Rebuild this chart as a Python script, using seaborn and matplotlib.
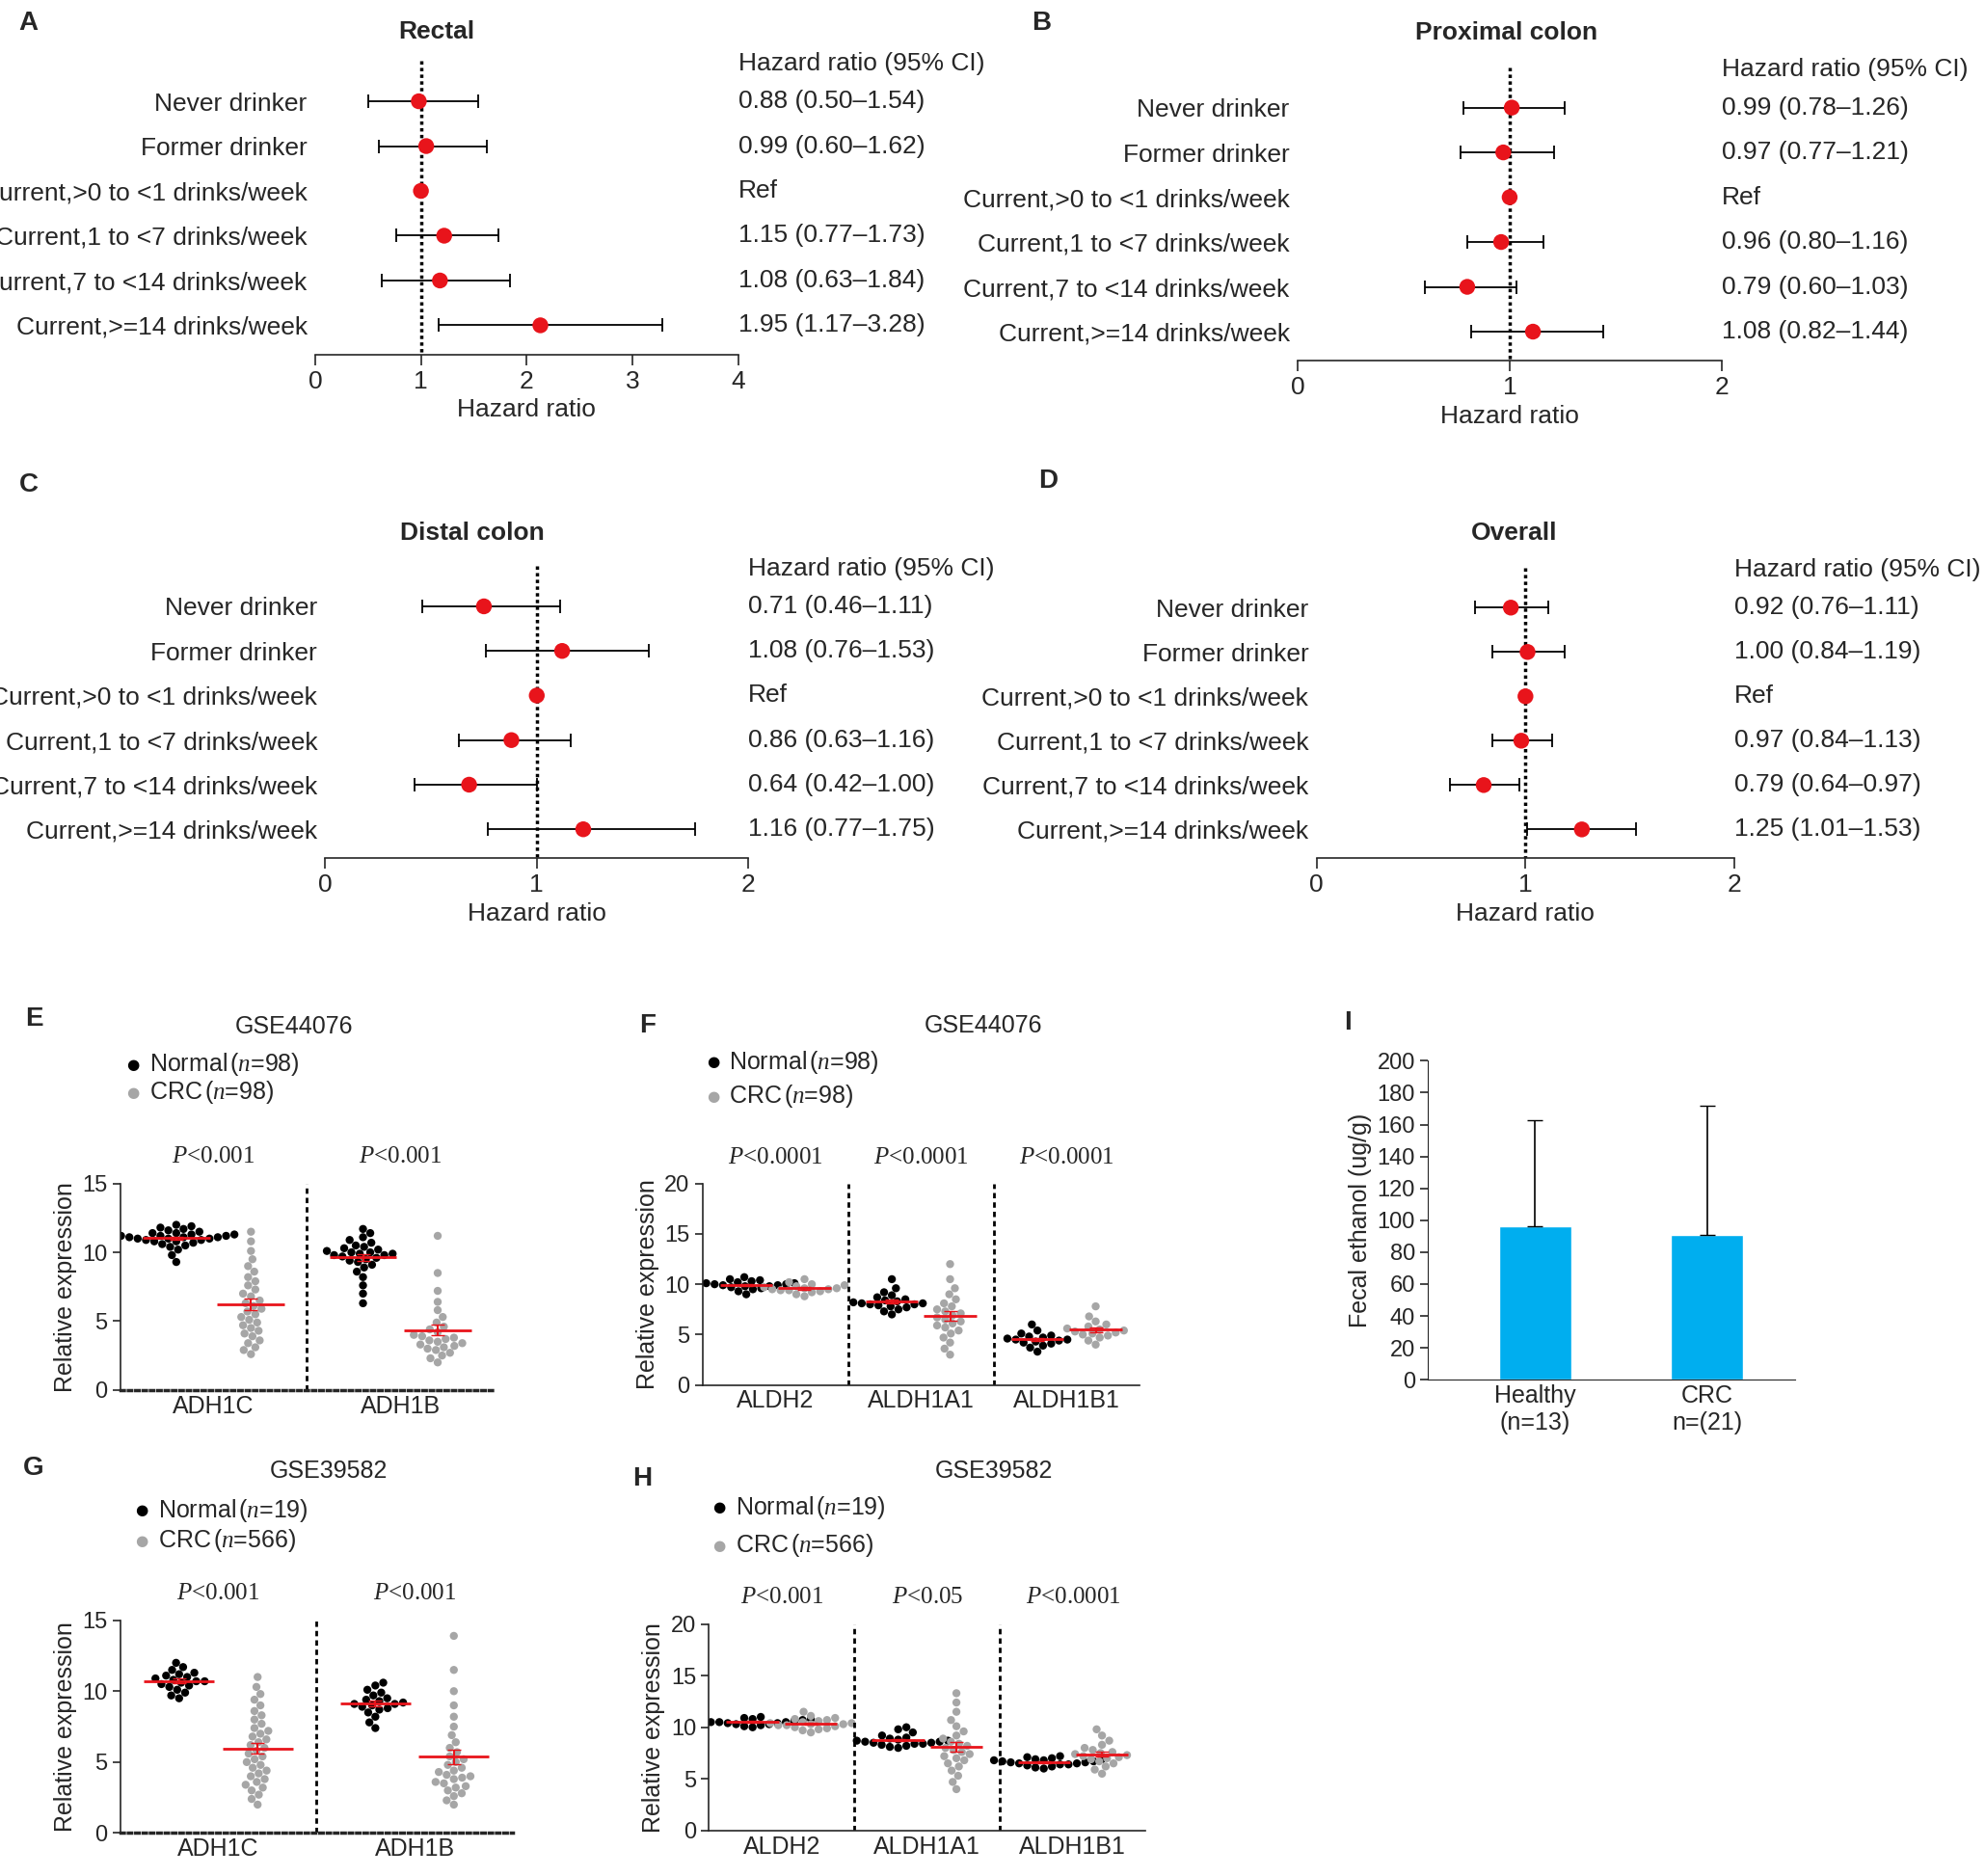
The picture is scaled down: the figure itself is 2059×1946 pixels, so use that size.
import numpy as np
import pandas as pd
import seaborn as sns
import matplotlib
matplotlib.use("Agg")
import matplotlib.pyplot as plt

sns.set_style("ticks")
plt.rcParams["font.family"] = ["Liberation Sans", "DejaVu Sans"]
plt.rcParams["mathtext.fontset"] = "custom"
plt.rcParams["mathtext.it"] = "Liberation Serif:italic"
plt.rcParams["mathtext.rm"] = "Liberation Serif"

# ---------------- data ----------------
rows = ["Never drinker", "Former drinker", "Current,>0 to <1 drinks/week",
        "Current,1 to <7 drinks/week", "Current,7 to <14 drinks/week",
        "Current,>=14 drinks/week"]

rectal_hr = [0.98, 1.05, 1.0, 1.22, 1.18, 2.13]
rectal_lo = [0.50, 0.60, 1.0, 0.77, 0.63, 1.17]
rectal_hi = [1.54, 1.62, 1.0, 1.73, 1.84, 3.28]
rectal_txt = ["0.88 (0.50–1.54)", "0.99 (0.60–1.62)", "Ref", "1.15 (0.77–1.73)",
              "1.08 (0.63–1.84)", "1.95 (1.17–3.28)"]

prox_hr = [1.01, 0.97, 1.0, 0.96, 0.80, 1.11]
prox_lo = [0.78, 0.77, 1.0, 0.80, 0.60, 0.82]
prox_hi = [1.26, 1.21, 1.0, 1.16, 1.03, 1.44]
prox_txt = ["0.99 (0.78–1.26)", "0.97 (0.77–1.21)", "Ref", "0.96 (0.80–1.16)",
            "0.79 (0.60–1.03)", "1.08 (0.82–1.44)"]

dist_hr = [0.75, 1.12, 1.0, 0.88, 0.68, 1.22]
dist_lo = [0.46, 0.76, 1.0, 0.63, 0.42, 0.77]
dist_hi = [1.11, 1.53, 1.0, 1.16, 1.00, 1.75]
dist_txt = ["0.71 (0.46–1.11)", "1.08 (0.76–1.53)", "Ref", "0.86 (0.63–1.16)",
            "0.64 (0.42–1.00)", "1.16 (0.77–1.75)"]

over_hr = [0.93, 1.01, 1.0, 0.98, 0.80, 1.27]
over_lo = [0.76, 0.84, 1.0, 0.84, 0.64, 1.01]
over_hi = [1.11, 1.19, 1.0, 1.13, 0.97, 1.53]
over_txt = ["0.92 (0.76–1.11)", "1.00 (0.84–1.19)", "Ref", "0.97 (0.84–1.13)",
            "0.79 (0.64–0.97)", "1.25 (1.01–1.53)"]

E_genes = ["ADH1C", "ADH1B"]
E_normal = [
    [9.3, 9.8, 10.2, 10.4, 10.5, 10.6, 10.7, 10.8, 10.8, 10.9, 10.9, 11.0, 11.0, 11.0, 11.1,
     11.1, 11.1, 11.2, 11.2, 11.2, 11.3, 11.3, 11.4, 11.4, 11.5, 11.6, 11.7, 11.8, 11.9, 12.0],
    [6.3, 7.0, 7.6, 8.2, 8.6, 8.9, 9.1, 9.3, 9.4, 9.5, 9.6, 9.7, 9.8, 9.8, 9.9, 9.9, 10.0,
     10.0, 10.1, 10.2, 10.3, 10.4, 10.5, 10.7, 10.9, 11.1, 11.4, 11.7]]
E_crc = [
    [2.6, 2.9, 3.1, 3.4, 3.6, 3.9, 4.1, 4.3, 4.5, 4.7, 4.9, 5.1, 5.3, 5.5, 5.7, 5.9, 6.1, 6.3,
     6.5, 6.8, 7.0, 7.3, 7.6, 7.9, 8.2, 8.6, 9.0, 9.5, 10.1, 10.8, 11.5],
    [2.0, 2.3, 2.5, 2.7, 2.9, 3.0, 3.1, 3.2, 3.3, 3.4, 3.5, 3.6, 3.7, 3.8, 3.9, 4.0, 4.2, 4.4,
     4.6, 4.9, 5.3, 5.8, 6.4, 7.2, 8.5, 11.2]]
E_p = ["<0.001", "<0.001"]

F_genes = ["ALDH2", "ALDH1A1", "ALDH1B1"]
F_normal = [
    [9.0, 9.3, 9.5, 9.6, 9.7, 9.8, 9.8, 9.9, 9.9, 10.0, 10.0, 10.1, 10.1, 10.2, 10.3, 10.4, 10.5, 10.7],
    [7.0, 7.3, 7.5, 7.7, 7.8, 7.9, 8.0, 8.0, 8.1, 8.1, 8.2, 8.3, 8.4, 8.5, 8.7, 8.9, 9.2, 9.6, 10.5],
    [3.3, 3.7, 3.9, 4.1, 4.2, 4.3, 4.4, 4.5, 4.5, 4.6, 4.7, 4.8, 4.9, 5.1, 5.4, 6.0]]
F_crc = [
    [8.8, 9.0, 9.2, 9.3, 9.4, 9.4, 9.5, 9.5, 9.6, 9.6, 9.7, 9.8, 9.9, 10.0, 10.2, 10.5],
    [3.0, 3.6, 4.2, 4.7, 5.1, 5.4, 5.7, 5.9, 6.1, 6.3, 6.5, 6.7, 6.9, 7.1, 7.3, 7.5, 7.8, 8.1,
     8.5, 9.0, 9.6, 10.5, 12.0],
    [4.0, 4.4, 4.7, 4.9, 5.0, 5.1, 5.2, 5.3, 5.4, 5.5, 5.6, 5.8, 6.0, 6.3, 6.8, 7.8]]
F_p = ["<0.0001", "<0.0001", "<0.0001"]

G_genes = ["ADH1C", "ADH1B"]
G_normal = [
    [9.5, 9.7, 9.9, 10.1, 10.3, 10.4, 10.5, 10.6, 10.7, 10.7, 10.8, 10.9, 11.0, 11.1, 11.2,
     11.3, 11.5, 11.7, 12.0],
    [7.4, 7.8, 8.2, 8.5, 8.7, 8.8, 8.9, 9.0, 9.1, 9.1, 9.2, 9.3, 9.4, 9.5, 9.7, 9.9, 10.1, 10.4, 10.6]]
G_crc = [
    [2.0, 2.4, 2.7, 3.0, 3.2, 3.4, 3.6, 3.8, 4.0, 4.2, 4.4, 4.6, 4.8, 5.0, 5.2, 5.4, 5.6, 5.8,
     6.0, 6.2, 6.4, 6.6, 6.8, 7.0, 7.2, 7.4, 7.7, 8.0, 8.3, 8.6, 9.0, 9.4, 9.8, 10.3, 11.0],
    [2.0, 2.3, 2.6, 2.8, 3.0, 3.2, 3.3, 3.5, 3.6, 3.8, 3.9, 4.0, 4.1, 4.3, 4.4, 4.6, 4.8, 5.0,
     5.2, 5.4, 5.7, 6.0, 6.4, 6.9, 7.5, 8.2, 9.0, 10.0, 11.5, 13.9]]
G_p = ["<0.001", "<0.001"]

H_genes = ["ALDH2", "ALDH1A1", "ALDH1B1"]
H_normal = [
    [10.0, 10.1, 10.2, 10.3, 10.3, 10.4, 10.4, 10.5, 10.5, 10.5, 10.6, 10.6, 10.7, 10.7, 10.8,
     10.8, 10.9, 10.9, 11.0],
    [8.0, 8.1, 8.2, 8.3, 8.4, 8.4, 8.5, 8.5, 8.6, 8.6, 8.7, 8.7, 8.8, 8.9, 9.0, 9.2, 9.5, 9.8, 10.0],
    [6.0, 6.1, 6.2, 6.3, 6.4, 6.4, 6.5, 6.5, 6.6, 6.6, 6.7, 6.7, 6.8, 6.8, 6.9, 6.9, 7.0, 7.1, 7.2]]
H_crc = [
    [9.5, 9.7, 9.8, 9.9, 10.0, 10.1, 10.2, 10.2, 10.3, 10.3, 10.4, 10.4, 10.5, 10.6, 10.7,
     10.8, 10.9, 11.1, 11.5],
    [4.0, 4.7, 5.3, 5.8, 6.2, 6.5, 6.8, 7.0, 7.2, 7.4, 7.6, 7.8, 8.0, 8.2, 8.4, 8.6, 8.9, 9.2,
     9.6, 10.1, 10.7, 11.5, 12.4, 13.3],
    [5.5, 5.9, 6.2, 6.5, 6.7, 6.9, 7.0, 7.1, 7.2, 7.3, 7.4, 7.5, 7.6, 7.8, 8.0, 8.3, 8.7, 9.2, 9.8]]
H_p = ["<0.001", "<0.05", "<0.0001"]

I_groups = ["Healthy\n(n=13)", "CRC\nn=(21)"]
I_mean = [96, 91]
I_sd = [67, 81]

# ---------------- layout helpers ----------------
W, H = 1568.0, 1482.0
fig = plt.figure(figsize=(20.59, 19.46), dpi=100)
FS = 18


def rect(x0, y0, x1, y1):
    # pixel box in the reference (top-left origin) to figure fraction
    return [x0 / W, 1 - y1 / H, (x1 - x0) / W, (y1 - y0) / H]


def ftext(x, y, s, **kw):
    fig.text(x / W, 1 - y / H, s, **kw)


def forest(x0, x1, row0, axis_y, xmax, hr, lo, hi, txt):
    step = (axis_y - row0) / 5.65
    top = row0 - 0.9 * step
    ax = fig.add_axes(rect(x0, top, x1, axis_y))
    y = np.arange(len(rows))
    ax.errorbar(hr, y, xerr=[np.array(hr) - np.array(lo), np.array(hi) - np.array(hr)],
                fmt="none", ecolor="black", elinewidth=1.3, capsize=5, capthick=1.3, zorder=2)
    ax.plot([1, 1], [-0.9, 5.65], color="black", ls=(0, (1, 1)), lw=2.5, zorder=1)
    sns.scatterplot(x=hr, y=y, color="#E8141B", s=140, edgecolor="none", ax=ax, zorder=3)
    ax.set_ylim(5.65, -0.9)
    ax.set_xlim(0, xmax)
    ax.set_xticks(range(0, xmax + 1))
    ax.set_yticks(y)
    ax.set_yticklabels(rows, fontsize=FS + 1)
    ax.tick_params(axis="y", length=0, pad=6)
    ax.tick_params(axis="x", labelsize=FS + 1, length=8, width=1.2)
    for s in ["top", "right", "left"]:
        ax.spines[s].set_visible(False)
    ax.spines["bottom"].set_linewidth(1.2)
    ax.set_xlabel("Hazard ratio", fontsize=FS + 1, labelpad=4)
    ax.text(1.0, -0.85, "Hazard ratio (95% CI)", transform=ax.get_yaxis_transform(),
            fontsize=FS + 1, va="center")
    for i, t in enumerate(txt):
        ax.text(1.0, i, t, transform=ax.get_yaxis_transform(), fontsize=FS + 1, va="center")
    return ax


def swarm(box, genes, normal, crc, ytop, pvals, dotted):
    recs = []
    for g, nv, cv in zip(genes, normal, crc):
        recs += [(g, "Normal", v) for v in nv] + [(g, "CRC", v) for v in cv]
    df = pd.DataFrame(recs, columns=["gene", "group", "value"])
    ax = fig.add_axes(rect(*box))
    sns.swarmplot(data=df, x="gene", y="value", hue="group", order=genes,
                  hue_order=["Normal", "CRC"], dodge=True,
                  palette={"Normal": "black", "CRC": "#A6A6A6"}, size=6,
                  legend=False, ax=ax, zorder=2)
    for i, g in enumerate(genes):
        for off, vals in [(-0.2, normal[i]), (0.2, crc[i])]:
            m = np.mean(vals)
            se = np.std(vals) / np.sqrt(len(vals))
            ax.hlines(m, i + off - 0.18, i + off + 0.18, color="#E8141B", lw=2, zorder=4)
            ax.errorbar(i + off, m, yerr=se, color="#E8141B", capsize=5, lw=1.5, zorder=4)
        ax.text(i, ytop * 1.1, r"$\it{P}$" + pvals[i], ha="center", fontsize=FS,
                family="Liberation Serif")
        if i < len(genes) - 1:
            ax.axvline(i + 0.5, color="black", ls=(0, (2, 1.5)), lw=2)
    ax.set_xlim(-0.5, len(genes) - 0.5)
    ax.set_ylim(0, ytop)
    ax.set_yticks(range(0, ytop + 1, 5))
    ax.set_xlabel("")
    ax.set_ylabel("Relative expression", fontsize=FS)
    ax.tick_params(labelsize=FS - 1, length=6, width=1.2)
    ax.tick_params(axis="x", length=0, labelsize=FS)
    for s in ["top", "right"]:
        ax.spines[s].set_visible(False)
    ax.spines["left"].set_linewidth(1.2)
    if dotted:
        ax.spines["bottom"].set_linestyle((0, (1, 1.2)))
        ax.spines["bottom"].set_linewidth(2.5)
    else:
        ax.spines["bottom"].set_linewidth(1.2)
    return ax


def legend(x, y1, y2, n):
    for yy, name, col in [(y1, "Normal", "black"), (y2, "CRC", "#A6A6A6")]:
        ftext(x, yy, "●", color=col, fontsize=11, va="center", family="DejaVu Sans")
        ftext(x + 18, yy, name + r"$\,$(" + r"$\it{n}$" + "=" + n[name] + ")",
              fontsize=FS, va="center")


# ---------------- forest plots ----------------
forest(249, 583, 80, 280, 4, rectal_hr, rectal_lo, rectal_hi, rectal_txt)
forest(1025, 1360, 85, 285, 2, prox_hr, prox_lo, prox_hi, prox_txt)
forest(257, 591, 479, 678, 2, dist_hr, dist_lo, dist_hi, dist_txt)
forest(1040, 1370, 480, 678, 2, over_hr, over_lo, over_hi, over_txt)

for x, y, s in [(345, 25, "Rectal"), (1190, 26, "Proximal colon"),
                (373, 421, "Distal colon"), (1196, 421, "Overall")]:
    ftext(x, y, s, fontsize=FS + 1, fontweight="bold", ha="center", va="center")

# ---------------- swarm plots ----------------
swarm((95, 935, 390, 1098), E_genes, E_normal, E_crc, 15, E_p, True)
swarm((555, 935, 900, 1094), F_genes, F_normal, F_crc, 20, F_p, False)
swarm((95, 1280, 405, 1448), G_genes, G_normal, G_crc, 15, G_p, True)
swarm((560, 1283, 905, 1446), H_genes, H_normal, H_crc, 20, H_p, False)

ftext(232, 811, "GSE44076", fontsize=FS, ha="center", va="center")
ftext(777, 810, "GSE44076", fontsize=FS, ha="center", va="center")
ftext(260, 1162, "GSE39582", fontsize=FS, ha="center", va="center")
ftext(785, 1162, "GSE39582", fontsize=FS, ha="center", va="center")
legend(100, 841, 863, {"Normal": "98", "CRC": "98"})
legend(558, 839, 866, {"Normal": "98", "CRC": "98"})
legend(107, 1193, 1217, {"Normal": "19", "CRC": "566"})
legend(563, 1191, 1221, {"Normal": "19", "CRC": "566"})

# ---------------- bar plot I ----------------
axI = fig.add_axes(rect(1128, 838, 1418, 1090))
bar_df = pd.DataFrame({"group": I_groups, "mean": I_mean})
sns.barplot(data=bar_df, x="group", y="mean", color="#00AEEF", saturation=1, width=0.42, ax=axI)
axI.errorbar(range(len(I_groups)), I_mean, yerr=[[0, 0], I_sd], fmt="none",
             ecolor="black", capsize=6, lw=1.2)
axI.set_xlim(-0.62, 1.51)
axI.set_ylim(0, 200)
axI.set_yticks(range(0, 201, 20))
axI.set_xlabel("")
axI.set_ylabel("Fecal ethanol (ug/g)", fontsize=FS)
axI.tick_params(labelsize=FS - 1, length=6, width=1.2)
axI.tick_params(axis="x", labelsize=FS, length=0)
for s in ["top", "right"]:
    axI.spines[s].set_visible(False)

# ---------------- panel letters ----------------
for x, y, s in [(15, 18, "A"), (815, 18, "B"), (15, 383, "C"), (820, 380, "D"),
                (20, 805, "E"), (505, 810, "F"), (1062, 808, "I"),
                (18, 1160, "G"), (500, 1168, "H")]:
    ftext(x, y, s, fontsize=20, fontweight="bold", va="center")

fig.savefig("out.png", dpi=100)
